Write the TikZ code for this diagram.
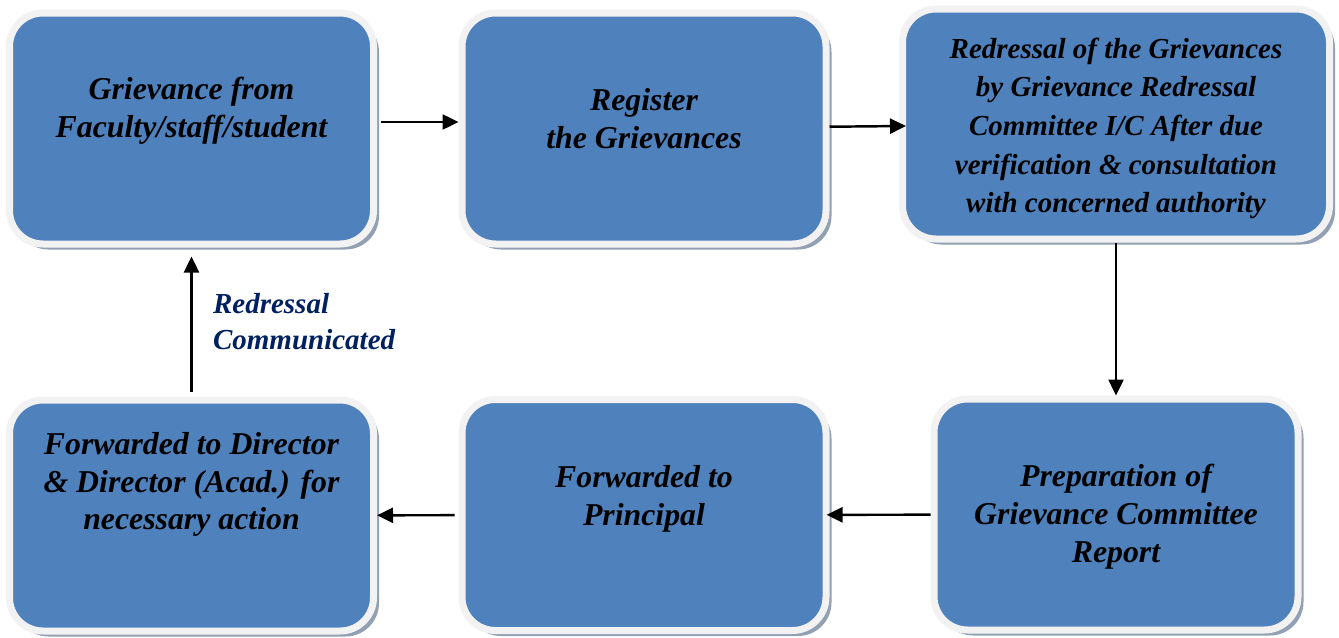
\documentclass[tikz,border=0pt]{standalone}
\usepackage{fontspec}
\setmainfont{Liberation Serif}
\usetikzlibrary{positioning, shadows, arrows.meta}
\definecolor{boxblue}{RGB}{79,129,189}
\definecolor{rimgray}{RGB}{242,242,242}
\definecolor{shadegray}{RGB}{146,160,180}
\definecolor{labelnavy}{RGB}{0,32,96}

\begin{document}
\begin{tikzpicture}[node distance = 1.63cm,
	block/.style = { rectangle, rounded corners=0.67cm, draw=rimgray, line width=0.14cm,
	fill=boxblue, minimum width=7.28cm, minimum height=4.62cm,
	drop shadow={shadow xshift=0.11cm, shadow yshift=-0.11cm, fill=shadegray, opacity=1} },
	boxtext/.style = { align=center, font=\fontsize{18.1}{21.5}\selectfont\bfseries\itshape },
	arrow/.style = { -{Triangle[length=0.32cm, width=0.3cm]}, line width=1.4pt } ]

  \useasboundingbox (0,0) rectangle (26.78,-12.76);

  \node [name=griev, block] at (3.83,-2.57) {};
  \node [name=reg, block, right=1.63cm of griev] {};
  \node [name=redr, block, minimum width=8.54cm, minimum height=4.6cm,
	right=1.39cm of reg, yshift=0.09cm] {};
  \node [name=dir, block, below=2.98cm of griev] {};
  \node [name=prin, block, below=2.97cm of reg] {};
  \node [name=prep, block, below=3.06cm of redr] {};

  \node [name=grievtext, boxtext, yshift=0.35cm] at (griev)
	{ Grievance from\\ Faculty/staff/student };
  \node [name=regtext, boxtext, yshift=0.2cm] at (reg)
	{ Register\\ the Grievances };
  \node [name=redrtext, boxtext, yshift=-0.09cm,
	font=\fontsize{16.5}{22}\selectfont\bfseries\itshape] at (redr)
	{ Redressal of the Grievances\\ by Grievance Redressal\\ Committee I/C After due\\
	  verification \& consultation\\ with concerned authority };
  \node [name=dirtext, boxtext, yshift=0.62cm] at (dir)
	{ Forwarded to Director\\ \& Director (Acad.) for\\ necessary action };
  \node [name=printext, boxtext, yshift=0.32cm] at (prin)
	{ Forwarded to\\ Principal };
  \node [name=preptext, boxtext, yshift=-0.04cm] at (prep)
	{ Preparation of\\ Grievance Committee\\ Report };

  \draw [arrow, shorten <=0.08cm] ([yshift=0.13cm]griev.east) -- ([yshift=0.13cm]griev.east -| reg.west);
  \draw [arrow, shorten >=-0.14cm] (reg) -- (redr);
  \draw [arrow] (redr) -- (prep);
  \draw [arrow, shorten >=-0.06cm] (prep) -- (prin);
  \draw [arrow, shorten <=0.08cm] (prin) -- (dir);
  \draw [arrow, shorten <=0.1cm, shorten >=0.18cm] (dir) -- (griev)
	node [name=comm, midway, right=0.29cm, align=left, text=labelnavy,
	font=\fontsize{16.5}{20.4}\selectfont\bfseries\itshape]
	{ Redressal\\ Communicated };
\end{tikzpicture}
\end{document}
